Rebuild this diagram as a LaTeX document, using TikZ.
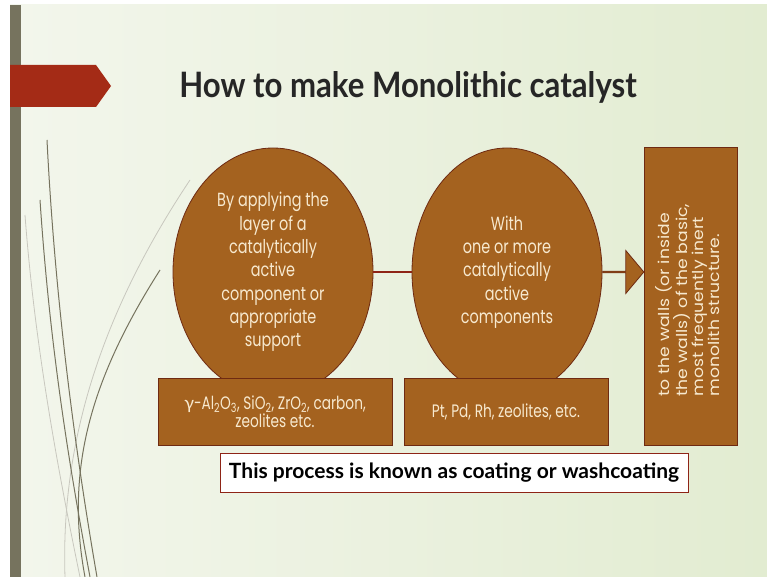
\documentclass[tikz,border=0pt]{standalone}
\usepackage{fontspec}
\setmainfont{Poppins}
\newfontfamily\titlef{Lato}
\newfontfamily\titlefn{Lato}[FakeStretch=0.89]
\newfontfamily\narrowf{Poppins}[FakeStretch=0.76]
\newfontfamily\widef{Poppins}[FakeStretch=1.15]
\usetikzlibrary{shapes.geometric,shapes.arrows}
\definecolor{bgL}{HTML}{F3F6EC}
\definecolor{bgR}{HTML}{E2ECD1}
\definecolor{brownf}{HTML}{A4621F}
\definecolor{browne}{HTML}{6E2A12}
\definecolor{cream}{HTML}{F7E9CF}
\definecolor{redar}{HTML}{A42B16}
\definecolor{olive}{HTML}{76735E}
\definecolor{lineR}{HTML}{8E2416}
\definecolor{titlec}{HTML}{262626}
\begin{document}
\begin{tikzpicture}[x=1pt,y=-1pt,
  shapebox/.style={draw=browne, line width=0.8pt, fill=brownf, text=cream, inner sep=0pt, align=center},
  circtext/.style={font=\narrowf\fontsize{19}{23.3}\selectfont},
  boxtext/.style={font=\narrowf\fontsize{18}{18.5}\selectfont},
  deco/.style={olive, line width=1pt},
  decolight/.style={olive!40, line width=0.8pt}]
\useasboundingbox (0,0) rectangle (767,577);
\fill[white] (0,0) rectangle (767,577);
\shade[left color=bgL, right color=bgR] (10,5) rectangle (767,577);
% decorative curves
\draw[decolight] (190,180) .. controls (110,300) and (60,430) .. (65,577);
\draw[decolight] (25,215) .. controls (35,350) and (60,480) .. (80,577);
\draw[deco] (47,140) .. controls (55,300) and (75,450) .. (97,577);
\draw[deco] (40,200) .. controls (50,350) and (70,470) .. (90,577);
\draw[deco] (160,270) .. controls (90,380) and (65,470) .. (85,577);
% left bar and red marker
\fill[olive] (10,5) rectangle (21,577);
\fill[redar] (10,65) -- (96,65) -- (111,86) -- (96,107) -- (10,107) -- cycle;
% title
\node[text=titlec, font=\titlefn\bfseries\fontsize{35}{40}\selectfont] (title) at (408,87) {How to make Monolithic catalyst};
% circles
\node[ellipse, shapebox, circtext, minimum width=200pt, minimum height=248pt] (c1) at (273,272)
  {By applying the\\layer of a\\catalytically\\active\\component or\\appropriate\\support};
\node[ellipse, shapebox, circtext, minimum width=190pt, minimum height=248pt] (c2) at (507,272)
  {With\\one or more\\catalytically\\active\\components};
\draw[lineR, line width=2pt] (c1) -- (c2);
% boxes
\node[rectangle, shapebox, boxtext, minimum width=234pt, minimum height=67pt] (b1) at (275,411.5)
  {{\titlef γ}-Al\textsubscript{2}O\textsubscript{3}, SiO\textsubscript{2}, ZrO\textsubscript{2}, carbon,\\zeolites etc.};
\node[rectangle, shapebox, boxtext, minimum width=204pt, minimum height=67pt] (b2) at (506,411.5)
  {Pt, Pd, Rh, zeolites, etc.};
\node[rectangle, shapebox, minimum width=93pt, minimum height=298pt] (r) at (690.5,296) {};
\node[rotate=90, text=cream, align=left, font=\widef\fontsize{15}{16}\selectfont, xshift=-4pt, yshift=3pt] (rt) at (r.center)
  {to the walls (or inside\\the walls) of the basic,\\most frequently inert\\monolith structure.};
% block arrow
\node[single arrow, draw=browne, line width=0.8pt, fill=brownf, minimum height=41pt, minimum width=43pt,
  single arrow head extend=11pt, single arrow tip angle=100, inner sep=0pt, anchor=tail] (arr) at (c2.east) {};
% bottom statement
\node[draw=lineR, line width=0.8pt, fill=white, minimum width=468pt, minimum height=39pt, inner sep=0pt,
  font=\titlef\bfseries\fontsize{21}{24}\selectfont] (bt) at (454,472.5)
  {This process is known as coating or washcoating};
\end{tikzpicture}
\end{document}
